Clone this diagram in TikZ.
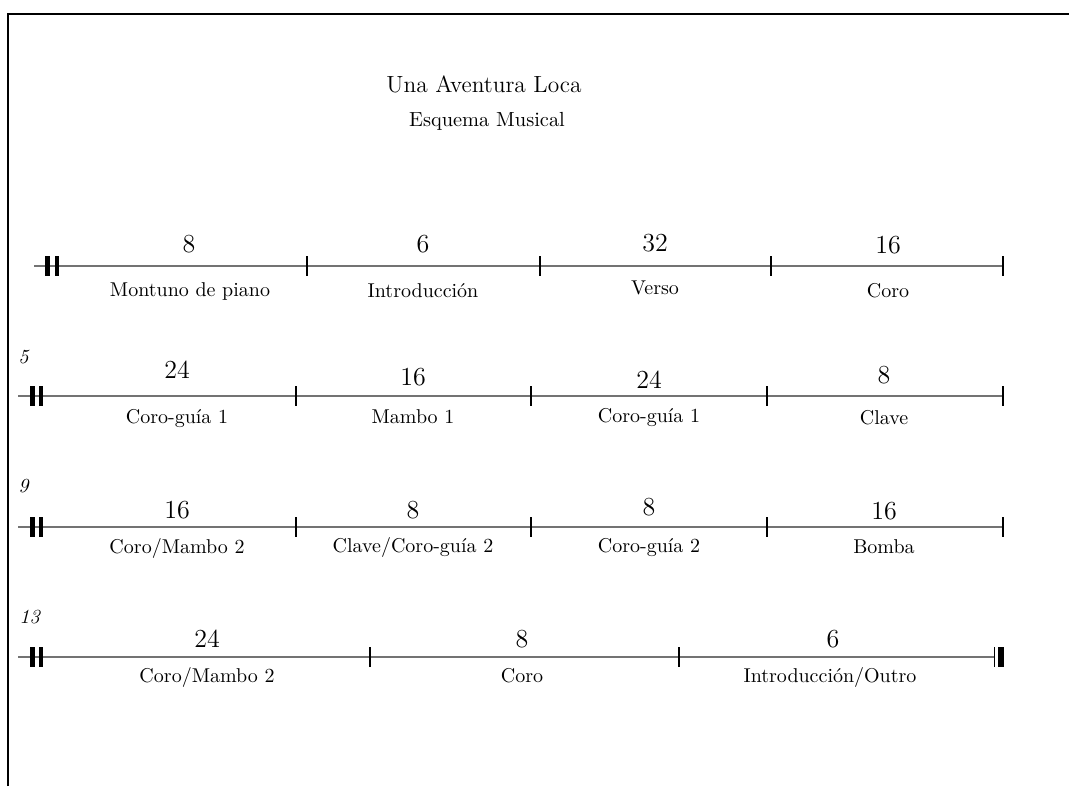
\documentclass[tikz,border=0pt]{standalone}
\usepackage{tikz}
\usetikzlibrary{positioning}

\begin{document}
\begin{tikzpicture}[x=0.5pt,y=-0.5pt,
  staff/.style={black!55,line width=0.8pt},
  tick/.style={black,line width=0.7pt},
  repbar/.style={black,line width=2.2pt},
  num/.style={anchor=base,inner sep=0pt,font=\fontsize{13}{15}\selectfont},
  part/.style={anchor=base,inner sep=0pt,font=\fontsize{10}{12}\selectfont},
  measno/.style={anchor=base west,inner sep=0pt,font=\fontsize{10}{12}\selectfont\itshape}]

\useasboundingbox (0,0) rectangle (1069,786);
\draw[line width=0.9pt] (8,786) -- (8,14) -- (1069,14);

% title
\node[anchor=base,inner sep=0pt,font=\fontsize{11.7}{14}\selectfont] (title) at (484,93) {Una Aventura Loca};
\node[anchor=base,inner sep=0pt,font=\fontsize{10.2}{12}\selectfont] (subtitle) at (487,127) {Esquema Musical};

% row 1
\draw[staff] (34,266) -- (1003,266);
\draw[repbar] (47.5,256) -- (47.5,276);
\draw[repbar] (57,256) -- (57,276);
\draw[tick] (307,256) -- (307,276);
\draw[tick] (540,256) -- (540,276);
\draw[tick] (771,256) -- (771,276);
\draw[tick] (1003,256) -- (1003,276);
\node[num] (n1a) at (189,252) {8};
\node[num] (n1b) at (423,252) {6};
\node[num] (n1c) at (655,251) {32};
\node[num] (n1d) at (888,253) {16};
\node[part] (p1a) at (190,296) {Montuno de piano};
\node[part] (p1b) at (423,297) {Introducción};
\node[part] (p1c) at (655,294) {Verso};
\node[part] (p1d) at (888,297) {Coro};

% row 2
\node[measno] (m5) at (18,363) {5};
\draw[staff] (18,396) -- (1003,396);
\draw[repbar] (32.5,386) -- (32.5,406);
\draw[repbar] (41,386) -- (41,406);
\draw[tick] (296,386) -- (296,406);
\draw[tick] (531,386) -- (531,406);
\draw[tick] (767,386) -- (767,406);
\draw[tick] (1003,386) -- (1003,406);
\node[num] (n2a) at (177,378) {24};
\node[num] (n2b) at (413,385) {16};
\node[num] (n2c) at (649,388) {24};
\node[num] (n2d) at (884,383) {8};
\node[part] (p2a) at (177,423) {Coro-guía 1};
\node[part] (p2b) at (413,423) {Mambo 1};
\node[part] (p2c) at (649,422) {Coro-guía 1};
\node[part] (p2d) at (884,424) {Clave};

% row 3
\node[measno] (m9) at (18,492) {9};
\draw[staff] (18,527) -- (1003,527);
\draw[repbar] (32.5,517) -- (32.5,537);
\draw[repbar] (41,517) -- (41,537);
\draw[tick] (296,517) -- (296,537);
\draw[tick] (531,517) -- (531,537);
\draw[tick] (767,517) -- (767,537);
\draw[tick] (1003,517) -- (1003,537);
\node[num] (n3a) at (177,518) {16};
\node[num] (n3b) at (413,518) {8};
\node[num] (n3c) at (649,515) {8};
\node[num] (n3d) at (884,519) {16};
\node[part] (p3a) at (177,553) {Coro/Mambo 2};
\node[part] (p3b) at (413,552) {Clave/Coro-guía 2};
\node[part] (p3c) at (649,552) {Coro-guía 2};
\node[part] (p3d) at (884,553) {Bomba};

% row 4
\node[measno] (m13) at (19,623) {13};
\draw[staff] (18,657) -- (994,657);
\draw[repbar] (32.5,647) -- (32.5,667);
\draw[repbar] (41,647) -- (41,667);
\draw[tick] (370,647) -- (370,667);
\draw[tick] (679,647) -- (679,667);
\draw[tick] (994.5,647) -- (994.5,667);
\draw[black,line width=2.8pt] (1001,647) -- (1001,667);
\node[num] (n4a) at (207,647) {24};
\node[num] (n4b) at (522,647) {8};
\node[num] (n4c) at (833,647) {6};
\node[part] (p4a) at (207,682) {Coro/Mambo 2};
\node[part] (p4b) at (522,682) {Coro};
\node[part] (p4c) at (830,682) {Introducción/Outro};
\end{tikzpicture}
\end{document}
